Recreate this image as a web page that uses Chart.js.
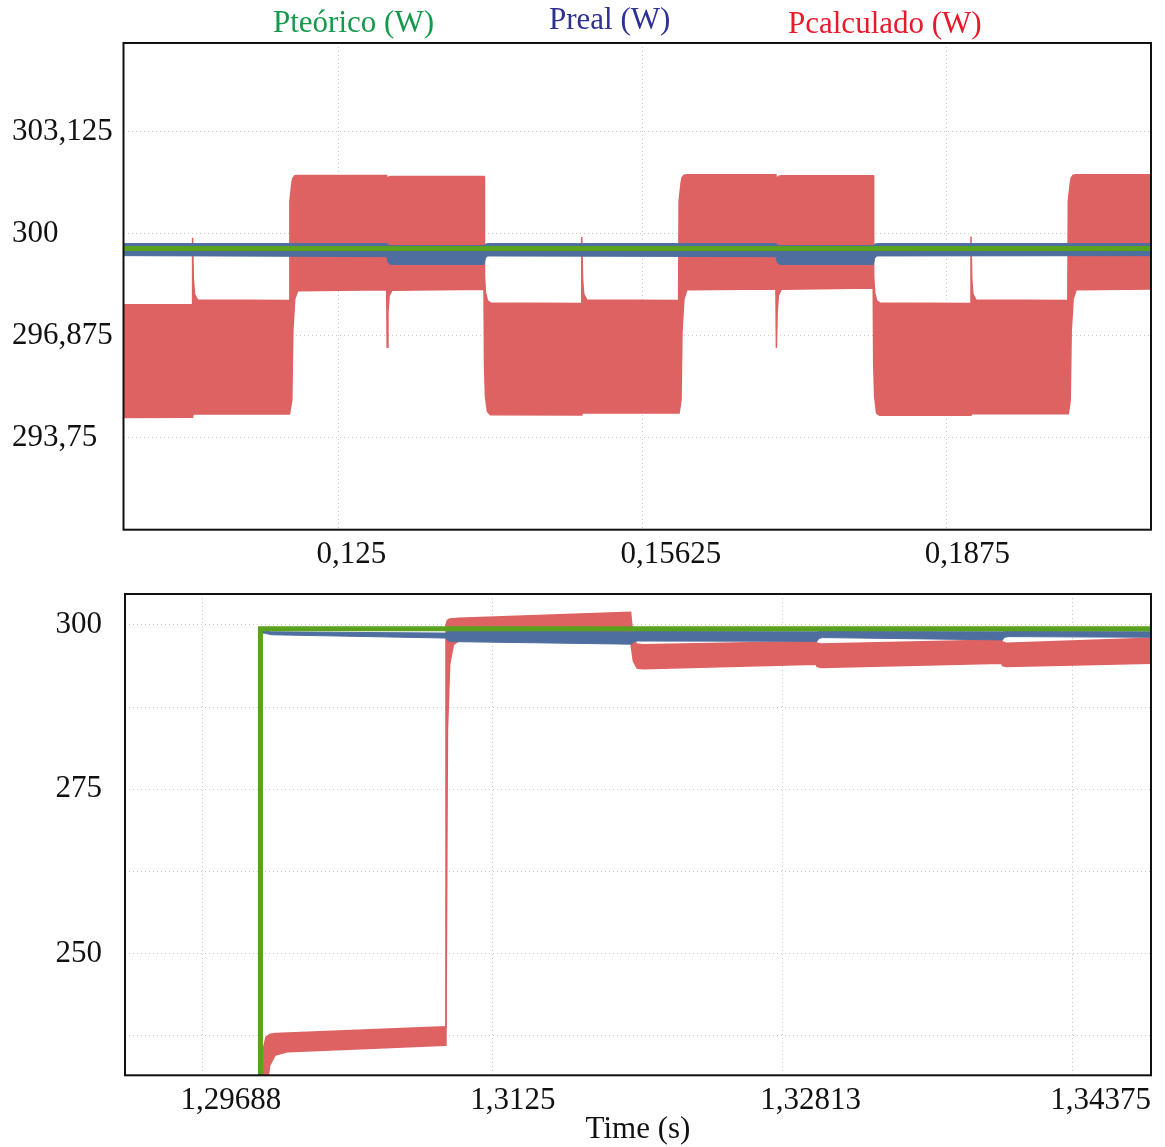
<!DOCTYPE html>
<html>
<head>
<meta charset="utf-8">
<title>Potencia teórica, real y calculada</title>
<script src="https://cdn.jsdelivr.net/npm/chart.js@4.4.1/dist/chart.umd.min.js"></script>
<style>
  html, body { margin: 0; padding: 0; background: #fff; }
  #wrap { position: relative; width: 1165px; height: 1147px; background: #fff; overflow: hidden;
          font-family: "Liberation Serif", "Times New Roman", serif; }
  #legend span { position: absolute; font-size: 31px; line-height: 1; white-space: nowrap; }
  canvas { position: absolute; left: 0; }
  #top { top: 0; }
  #bottom { top: 580px; }
</style>
</head>
<body>
<div id="wrap">
  <canvas id="top" width="1165" height="580"></canvas>
  <canvas id="bottom" width="1165" height="567"></canvas>
  <div id="legend"></div>
</div>
<script>
// ---- series ----
const seriesNames = ['Pteórico (W)', 'Preal (W)', 'Pcalculado (W)'];

// ---- upper panel: steady state ----
const topXRange = [0.1029, 0.2085];
const topYRange = [290.92, 305.855];
const topXTicks = [0.125, 0.15625, 0.1875];
const topXLabels = ['0,125', '0,15625', '0,1875'];
const topYTicks = [293.75, 296.875, 300, 303.125];
const topYLabels = ['293,75', '296,875', '300', '303,125'];

const topTeoTime = [0.1029, 0.2085];
const topTeo = [299.55, 299.55];

const topRealTime = [0.1029, 0.12995, 0.1301, 0.1303, 0.13995, 0.1401, 0.1403,
                     0.16995, 0.1701, 0.1703, 0.17995, 0.1801, 0.1803, 0.2085];
const topRealHigh = [299.70, 299.70, 299.66, 299.64, 299.64, 299.68, 299.70,
                     299.70, 299.66, 299.64, 299.64, 299.68, 299.70, 299.70];
const topRealLow  = [299.33, 299.30, 299.12, 299.06, 299.06, 299.25, 299.32,
                     299.30, 299.12, 299.06, 299.06, 299.25, 299.32, 299.33];

// envelope of the oscillating calculated power
const topCalcTime = [
  0.1029, 0.10998,
  0.11, 0.11008, 0.1102, 0.1105, 0.11995,
  0.12, 0.1202, 0.1203, 0.1205, 0.1208, 0.12995,
  0.13, 0.13008, 0.1302, 0.1305, 0.13995,
  0.14, 0.1401, 0.1403, 0.1406, 0.14995,
  0.15, 0.15008, 0.1502, 0.1505, 0.15995,
  0.16, 0.1602, 0.1603, 0.1605, 0.1608, 0.16995,
  0.17, 0.17008, 0.1702, 0.1705, 0.17995,
  0.18, 0.1801, 0.1803, 0.1806, 0.18995,
  0.19, 0.19008, 0.1902, 0.1905, 0.19995,
  0.2, 0.2002, 0.2003, 0.2005, 0.2008, 0.2085
];
const topCalcHigh = [
  297.82, 297.83,
  299.88, 298.60, 298.15, 297.97, 297.95,
  301.00, 301.55, 301.70, 301.78, 301.79, 301.79,
  301.60, 301.72, 301.75, 301.76, 301.76,
  298.70, 298.20, 297.95, 297.88, 297.86,
  299.90, 298.60, 298.15, 297.97, 297.95,
  301.00, 301.55, 301.72, 301.80, 301.81, 301.81,
  301.60, 301.72, 301.76, 301.78, 301.78,
  298.70, 298.20, 297.95, 297.88, 297.86,
  299.92, 298.60, 298.15, 297.97, 297.95,
  301.00, 301.55, 301.72, 301.80, 301.81, 301.81
];
const topCalcLow = [
  294.36, 294.37,
  294.40, 294.46, 294.47, 294.47, 294.47,
  294.47, 294.90, 297.00, 298.00, 298.25, 298.28,
  296.52, 297.60, 298.10, 298.27, 298.30,
  296.00, 295.00, 294.55, 294.45, 294.44,
  294.46, 294.50, 294.50, 294.50, 294.50,
  294.50, 294.90, 297.00, 298.00, 298.28, 298.31,
  296.50, 297.60, 298.10, 298.30, 298.34,
  296.00, 295.00, 294.50, 294.43, 294.43,
  294.45, 294.48, 294.48, 294.48, 294.48,
  294.48, 294.90, 297.00, 298.00, 298.28, 298.31
];

// ---- lower panel: start-up ----
const botXRange = [1.2927, 1.348];
const botYRange = [231.5, 304.7];
const botXTicks = [1.296875, 1.3125, 1.328125, 1.34375];
const botXLabels = ['1,29688', '1,3125', '1,32813', '1,34375'];
const botYTicks = [237.5, 250, 262.5, 275, 287.5, 300];
const botYLabels = ['', '250', '', '275', '', '300'];

const botTeoTime = [1.2927, 1.3, 1.3, 1.348];
const botTeo = [0, 0, 299.4, 299.4];

const botRealTime = [1.3, 1.30003, 1.3002, 1.3006, 1.31, 1.3101, 1.3103, 1.32,
                     1.3201, 1.3203, 1.33, 1.3301, 1.3303, 1.34, 1.3401, 1.3403, 1.348];
const botRealHigh = [0, 299.30, 299.05, 298.95, 298.75, 299.10, 299.05, 298.95,
                     299.00, 299.00, 298.95, 299.00, 299.00, 298.95, 299.00, 299.00, 298.95];
const botRealLow  = [0, 298.70, 298.75, 298.50, 298.00, 297.60, 297.46, 297.07,
                     297.40, 297.55, 297.50, 297.95, 298.07, 297.72, 298.10, 298.22, 298.12];

const botCalcTime = [1.3001, 1.30015, 1.3003, 1.3005, 1.3008, 1.3015, 1.30998,
                     1.31, 1.31008, 1.3102, 1.3104, 1.3107, 1.31995,
                     1.32, 1.3201, 1.3203, 1.3206, 1.32995,
                     1.33, 1.3302, 1.33995,
                     1.34, 1.3402, 1.348];
const botCalcHigh = [225, 235.5, 237.3, 237.7, 237.85, 237.95, 238.87,
                     300.0, 300.7, 300.9, 300.95, 301.0, 301.93,
                     300.5, 297.6, 297.1, 296.98, 297.46,
                     297.2, 297.08, 297.72,
                     297.4, 297.22, 297.98];
const botCalcLow  = [220, 224, 229, 233.0, 234.6, 235.1, 236.08,
                     237, 284, 294.0, 297.0, 297.6, 297.9,
                     296.5, 294.5, 293.45, 293.32, 294.02,
                     293.7, 293.52, 294.17,
                     293.8, 293.66, 294.17];

// ---- styling ----
const lineColors = ['#5aa11e', '#4e6ea0', '#de6262'];
const legendColors = ['#13994a', '#2e3192', '#e8192c'];
const legendLeft = [273, 549, 788];
const legendTop = [6, 3, 7];
const FONT = '"Liberation Serif", "Times New Roman", serif';
const tickFont = { family: FONT, size: 31, lineHeight: 1.2 };
const gridColor = '#c9cbbb';
const textColor = '#111';

const legend = document.getElementById('legend');
seriesNames.forEach((name, i) => {
  const s = document.createElement('span');
  s.textContent = name;
  s.style.color = legendColors[i];
  s.style.left = legendLeft[i] + 'px';
  s.style.top = legendTop[i] + 'px';
  legend.appendChild(s);
});

function pts(t, v) { return t.map((x, i) => ({ x, y: v[i] })); }

function buildDatasets(teoT, teo, realT, realHi, realLo, calcT, calcHi, calcLo) {
  const base = { pointRadius: 0, pointHoverRadius: 0, tension: 0 };
  return [
    { label: seriesNames[0], data: pts(teoT, teo), borderColor: lineColors[0], borderWidth: 5, fill: false },
    { label: seriesNames[1], data: pts(realT, realHi), borderColor: lineColors[1], backgroundColor: lineColors[1], borderWidth: 1, fill: '+1' },
    { label: seriesNames[1] + ' ', data: pts(realT, realLo), borderColor: lineColors[1], borderWidth: 1, fill: false },
    { label: seriesNames[2], data: pts(calcT, calcHi), borderColor: lineColors[2], backgroundColor: lineColors[2], borderWidth: 1.5, fill: '+1' },
    { label: seriesNames[2] + ' ', data: pts(calcT, calcLo), borderColor: lineColors[2], borderWidth: 1.5, fill: false }
  ].map(d => Object.assign({}, base, d));
}

// black box round the plot area
const frame = {
  id: 'frame',
  afterDraw(chart) {
    const { ctx, chartArea: a } = chart;
    ctx.save();
    ctx.strokeStyle = '#111';
    ctx.lineWidth = 2;
    ctx.strokeRect(a.left, a.top, a.right - a.left, a.bottom - a.top);
    ctx.restore();
  }
};

// fixed axis size, no extra room reserved for overhanging labels
function fixSize(prop, size) {
  return s => {
    s[prop] = size;
    s.paddingLeft = 0; s.paddingRight = 0; s.paddingTop = 0; s.paddingBottom = 0;
  };
}

function makeChart(id, o) {
  return new Chart(document.getElementById(id), {
    type: 'line',
    data: { datasets: o.datasets },
    plugins: [frame],
    options: {
      responsive: false,
      animation: false,
      devicePixelRatio: 1,
      layout: { padding: o.padding },
      plugins: {
        legend: { display: false },
        tooltip: { enabled: false },
        filler: { drawTime: 'beforeDatasetDraw' }
      },
      scales: {
        x: {
          type: 'linear',
          min: o.xRange[0], max: o.xRange[1],
          afterBuildTicks: s => { s.ticks = o.xTicks.map(value => ({ value })); },
          afterFit: fixSize('height', o.xHeight),
          grid: { color: gridColor, lineWidth: 1, drawTicks: false },
          border: { display: false, dash: [1, 3] },
          ticks: {
            autoSkip: false, maxRotation: 0, minRotation: 0,
            align: 'start', labelOffset: -22, padding: 7,
            color: textColor, font: tickFont,
            callback: (v, i) => o.xLabels[i]
          },
          title: o.xTitle ? {
            display: true, text: o.xTitle, color: textColor,
            font: { family: FONT, size: 31, lineHeight: 1.1 }, padding: 0
          } : { display: false }
        },
        y: {
          type: 'linear',
          min: o.yRange[0], max: o.yRange[1],
          afterBuildTicks: s => { s.ticks = o.yTicks.map(value => ({ value })); },
          afterFit: fixSize('width', o.yWidth),
          grid: { color: gridColor, lineWidth: 1, drawTicks: false },
          border: { display: false, dash: [1, 3] },
          ticks: {
            autoSkip: false, crossAlign: o.yAlign, padding: o.yPad,
            color: textColor, font: tickFont,
            callback: (v, i) => o.yLabels[i]
          }
        }
      }
    }
  });
}

makeChart('top', {
  datasets: buildDatasets(topTeoTime, topTeo, topRealTime, topRealHigh, topRealLow,
                          topCalcTime, topCalcHigh, topCalcLow),
  padding: { top: 43, left: 12, right: 14, bottom: 0 },
  xRange: topXRange, yRange: topYRange,
  xTicks: topXTicks, xLabels: topXLabels,
  yTicks: topYTicks, yLabels: topYLabels,
  xHeight: 50.3, yWidth: 111.5, yAlign: 'far', yPad: 0
});

makeChart('bottom', {
  datasets: buildDatasets(botTeoTime, botTeo, botRealTime, botRealHigh, botRealLow,
                          botCalcTime, botCalcHigh, botCalcLow),
  padding: { top: 14, left: 0, right: 14, bottom: 0 },
  xRange: botXRange, yRange: botYRange,
  xTicks: botXTicks, xLabels: botXLabels,
  yTicks: botYTicks, yLabels: botYLabels,
  xHeight: 71.7, yWidth: 125, yAlign: 'near', yPad: 23,
  xTitle: 'Time (s)'
});
</script>
</body>
</html>
